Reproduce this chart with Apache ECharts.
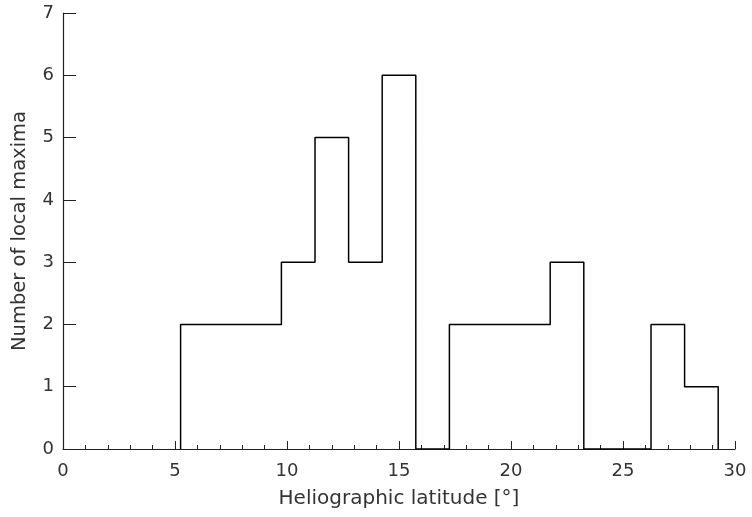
<!DOCTYPE html>
<html><head><meta charset="utf-8">
<script src="https://cdn.jsdelivr.net/npm/echarts@6/dist/echarts.min.js"></script>
<style>html,body{margin:0;padding:0;background:#fff}#c{width:752px;height:517px}</style>
</head><body><div id="c"></div>
<script>
// Bin edges (degrees) and counts per bin
var binEdges = [5.25, 6.75, 8.25, 9.75, 11.25, 12.75, 14.25, 15.75, 17.25, 18.75, 20.25, 21.75, 23.25, 24.75, 26.25, 27.75, 29.25];
var counts   = [2, 2, 2, 3, 5, 3, 6, 0, 2, 2, 2, 3, 0, 0, 2, 1];
var xTicks = [0, 5, 10, 15, 20, 25, 30];
var yTicks = [0, 1, 2, 3, 4, 5, 6, 7];

var pts = [[binEdges[0], 0]];
for (var i = 0; i < counts.length; i++) pts.push([binEdges[i], counts[i]]);
pts.push([binEdges[binEdges.length - 1], 0]);

var font = 'DejaVu Sans';
var txt = '#333';
var chart = echarts.init(document.getElementById('c'));
chart.setOption({
  animation: false,
  backgroundColor: '#fff',
  grid: {left: 63, right: 17, top: 13, bottom: 68},
  xAxis: {
    type: 'value', min: xTicks[0], max: xTicks[xTicks.length - 1], interval: 5,
    name: 'Heliographic latitude [°]', nameLocation: 'middle', nameGap: 40,
    nameTextStyle: {fontFamily: font, fontSize: 20, color: txt},
    axisLine: {lineStyle: {color: '#222', width: 1.2}},
    axisTick: {inside: true, length: 8, lineStyle: {color: '#222'}},
    minorTick: {show: true, splitNumber: 5, length: 4, lineStyle: {color: '#222'}},
    axisLabel: {fontFamily: font, fontSize: 18, color: txt, margin: 13},
    splitLine: {show: false}
  },
  yAxis: {
    type: 'value', min: yTicks[0], max: yTicks[yTicks.length - 1], interval: 1,
    name: 'Number of local maxima', nameLocation: 'middle', nameGap: 33, nameRotate: 90,
    nameTextStyle: {fontFamily: font, fontSize: 19.5, color: txt},
    axisLine: {show: true, lineStyle: {color: '#222', width: 1.2}},
    axisTick: {show: true, inside: true, length: 13, lineStyle: {color: '#222'}},
    axisLabel: {fontFamily: font, fontSize: 18, color: txt, margin: 9},
    splitLine: {show: false}
  },
  series: [{
    type: 'line', data: pts, step: 'end', symbol: 'none',
    lineStyle: {color: '#000', width: 1.5}
  }]
});
</script></body></html>
